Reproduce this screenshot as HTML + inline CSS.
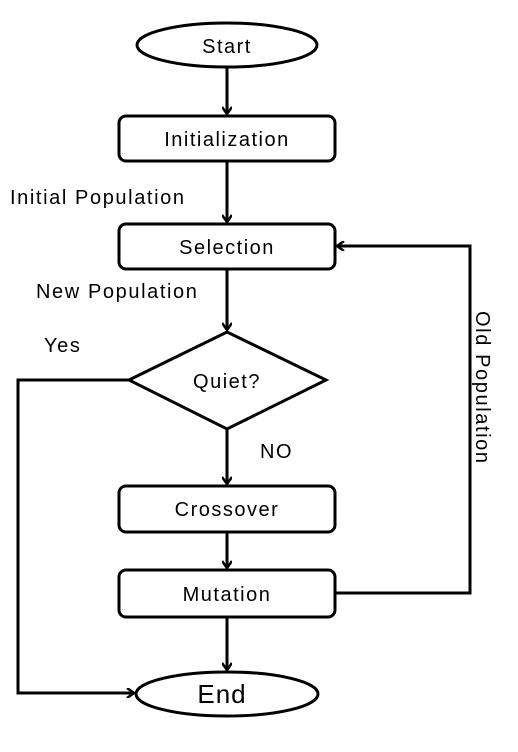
<!DOCTYPE html>
<html><head><style>html,body{margin:0;padding:0;background:#fff;width:518px;height:752px;overflow:hidden}</style></head>
<body>
<svg width="518" height="752" viewBox="0 0 518 752" xmlns="http://www.w3.org/2000/svg" font-family="Liberation Sans, sans-serif" fill="none" stroke="#000" stroke-width="3">
<defs><marker id="a" markerWidth="10" markerHeight="10" refX="8" refY="5" orient="auto" markerUnits="userSpaceOnUse"><path d="M1,0 L8,5 L1,10" stroke="#000" stroke-width="2.5" fill="none"/></marker></defs>
<ellipse cx="227" cy="45" rx="90" ry="22"/>
<rect x="119" y="116" width="216" height="45" rx="7"/>
<rect x="119" y="224" width="216" height="45" rx="7"/>
<path d="M227,332 L326,380 L227,429 L129,380 Z"/>
<rect x="119" y="486" width="216" height="46" rx="7"/>
<rect x="119" y="570" width="216" height="47" rx="7"/>
<ellipse cx="227" cy="694" rx="91" ry="22"/>
<line x1="227" y1="67" x2="227" y2="114" marker-end="url(#a)"/>
<line x1="227" y1="161" x2="227" y2="222" marker-end="url(#a)"/>
<line x1="227" y1="269" x2="227" y2="330" marker-end="url(#a)"/>
<line x1="227" y1="429" x2="227" y2="484" marker-end="url(#a)"/>
<line x1="227" y1="532" x2="227" y2="568" marker-end="url(#a)"/>
<line x1="227" y1="617" x2="227" y2="670" marker-end="url(#a)"/>
<polyline points="129,380 18,380 18,693 134,693" marker-end="url(#a)"/>
<polyline points="335,593 470,593 470,246 337,246" marker-end="url(#a)"/>
<g fill="#000" stroke="none" font-size="20" letter-spacing="1.5" text-anchor="middle">
<text x="227" y="53">Start</text>
<text x="227" y="146">Initialization</text>
<text x="227" y="254">Selection</text>
<text x="227" y="388">Quiet?</text>
<text x="227" y="516">Crossover</text>
<text x="227" y="601">Mutation</text>
<text x="222" y="703" font-size="26" letter-spacing="1">End</text>
</g>
<g fill="#000" stroke="none" font-size="20" letter-spacing="1.6">
<text x="10" y="204">Initial Population</text>
<text x="36" y="298">New Population</text>
<text x="44" y="352">Yes</text>
<text x="260" y="458">NO</text>
<text transform="translate(476,311) rotate(90)">Old Population</text>
</g>
</svg>
</body></html>
